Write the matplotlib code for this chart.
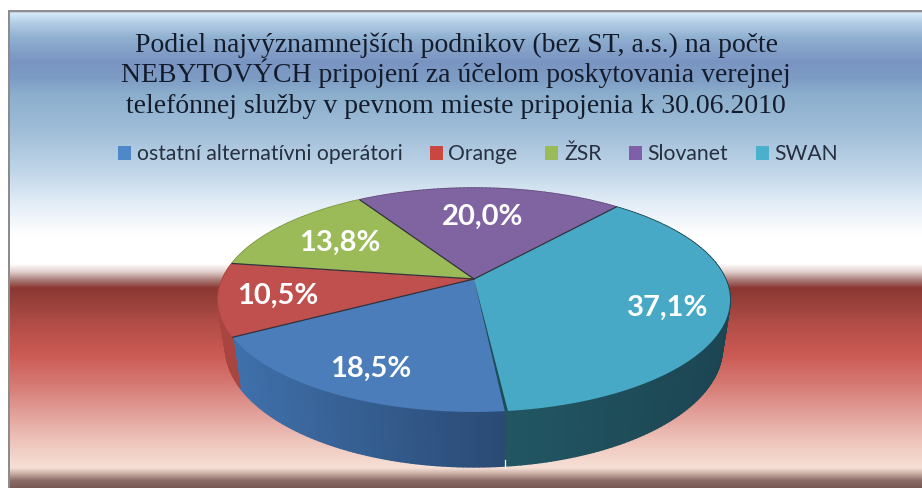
import numpy as np
import matplotlib
matplotlib.use("Agg")
import matplotlib.pyplot as plt
from matplotlib.colors import to_rgb, LinearSegmentedColormap
from matplotlib.patches import Polygon, Rectangle

categories = ["ostatní alternatívni operátori", "Orange", "ŽSR", "Slovanet", "SWAN"]
shares = [18.5, 10.5, 13.8, 20.0, 37.1]
share_labels = ["18,5%", "10,5%", "13,8%", "20,0%", "37,1%"]
title_lines = ["Podiel najvýznamnejších podnikov (bez ST, a.s.) na počte",
               "NEBYTOVÝCH pripojení za účelom poskytovania verejnej",
               "telefónnej služby v pevnom mieste pripojenia k 30.06.2010"]

top_colors = ["#4a7dba", "#c0504d", "#9bbb59", "#8064a2", "#47a9c5"]
legend_colors = ["#4f88c8", "#c9473f", "#9bbb59", "#7f5fa8", "#4bb0cc"]
wall_left = ["#3f70ab", "#a84541", "#7d9a45", "#65507f", "#225663"]
wall_right = ["#2a4a74", "#a84541", "#7d9a45", "#65507f", "#1c4552"]
label_xy = [(371, 369), (278, 296), (340, 243), (483, 217), (668, 308)]

W, H = 922, 488
fig = plt.figure(figsize=(W / 100, H / 100), dpi=100, facecolor="white")
ax = fig.add_axes([0, 0, 1, 1])
ax.set_xlim(0, W)
ax.set_ylim(H, 0)
ax.axis("off")

# background gradient
stops = [(10, "#8c8c8c"), (11.5, "#8c8c8c"), (12.5, "#d8eafa"), (22, "#b4cee6"), (38, "#8fafd0"),
         (62, "#7a94c2"), (78, "#7d9cc4"), (95, "#8cafcd"), (130, "#9fbdd8"), (170, "#bfd5e8"),
         (205, "#e4eef7"), (235, "#ffffff"), (264, "#ffffff"), (272, "#e0cdcb"), (280, "#a87c78"),
         (288, "#8c3732"), (300, "#96403a"), (325, "#b34d47"), (355, "#cb5a54"), (385, "#d67a74"),
         (410, "#e19b95"), (440, "#edc3b9"), (468, "#f6e0d6"), (474, "#c8aca2"), (481, "#8a6a64"),
         (488, "#7a5a55")]
ys = np.array([s[0] for s in stops], float)
cols = np.array([to_rgb(s[1]) for s in stops])
yy = np.arange(10, 488.5, 0.5)
grad = np.stack([np.interp(yy, ys, cols[:, i]) for i in range(3)], axis=1)[:, None, :]
ax.imshow(grad, extent=(8.5, W, 488, 10), aspect="auto", interpolation="bilinear", zorder=0)
ax.set_xlim(0, W)
ax.set_ylim(H, 0)
ax.add_patch(Rectangle((8, 10), 1.6, 478, color="#8c8c8c", lw=0, zorder=1))

# projected pie geometry
CX, CY, S, T, K = 474.0, 279.0, 251.5, 108.0, 0.1875
FX, DY, FY = 0.97, 46.0, 1.067
START = 174.0


def top_pt(theta, r=1.0):
    a = np.radians(theta)
    u, v = r * np.sin(a), r * np.cos(a)
    d = 1 + K * v
    return CX + S * u / d, CY - T * v / d


def bot_pt(theta):
    a = np.radians(theta)
    u, v = np.sin(a), np.cos(a)
    d = 1 + K * v
    return CX + FX * S * u / d, CY + DY - FY * T * v / d


total = sum(shares)
edges = START + np.concatenate([[0], np.cumsum(shares)]) / total * 360.0

# side walls: coarse bands, each overlapping the next so no seams show
for i in range(len(shares)):
    n = max(int(edges[i + 1] - edges[i]), 2)
    steps = np.linspace(edges[i], edges[i + 1], n + 1)
    cm = LinearSegmentedColormap.from_list("w", [wall_left[i], wall_right[i]])
    xs = np.array([top_pt(t)[0] for t in steps])
    lo, hi = xs.min(), xs.max()
    for j in range(n):
        a, b = steps[j], steps[j + 1]
        q = [top_pt(a), top_pt(b), bot_pt(b), bot_pt(a)]
        c = cm((top_pt((a + b) / 2)[0] - lo) / max(hi - lo, 1))
        ax.add_patch(Polygon(q, closed=True, facecolor=c, edgecolor=c, lw=1.2, zorder=3,
                             joinstyle="round"))

# top faces
for i in range(len(shares)):
    steps = np.linspace(edges[i], edges[i + 1], 120)
    pts = [(CX, CY)] + [top_pt(t) for t in steps]
    ax.add_patch(Polygon(pts, closed=True, facecolor=top_colors[i], edgecolor="none", zorder=4))

# slice borders
for i in range(1, len(shares)):
    x, y = top_pt(edges[i])
    ax.plot([CX, x], [CY, y], color="#33323c", lw=0.9, zorder=5, solid_capstyle="round")
x, y = top_pt(edges[0])
ax.add_patch(Polygon([(CX, CY), (x - 1.5, y), (x + 1.6, y)], closed=True,
                     facecolor="#1d4b58", edgecolor="none", zorder=6))
bx, by = bot_pt(edges[0])
ax.plot([bx, bx], [by + 2, by - 6], color="white", lw=0.9, zorder=7)

# data labels
for txt, (lx, ly) in zip(share_labels, label_xy):
    ax.text(lx, ly, txt, color="white", fontsize=21, fontweight="bold", family="Lato",
            ha="center", va="center", zorder=8)

# title
for line, ty in zip(title_lines, [52, 82.5, 113]):
    ax.text(456, ty, line, ha="center", va="baseline", family="Liberation Serif",
            fontsize=20, color="#141c2c", zorder=8)

# legend
handles = [Rectangle((0, 0), 1, 1, facecolor=c, edgecolor="none") for c in legend_colors]
leg = ax.legend(handles, categories, ncol=5, loc="center", bbox_to_anchor=(478 / W, 1 - 154.5 / H),
                frameon=False, handlelength=0.62, handleheight=0.62, handletextpad=0.26,
                columnspacing=1.31, prop={"family": "Lato", "size": 15.2}, labelcolor="#263040",
                borderpad=0, borderaxespad=0)
leg.set_zorder(8)

fig.savefig("out.png", dpi=100)
